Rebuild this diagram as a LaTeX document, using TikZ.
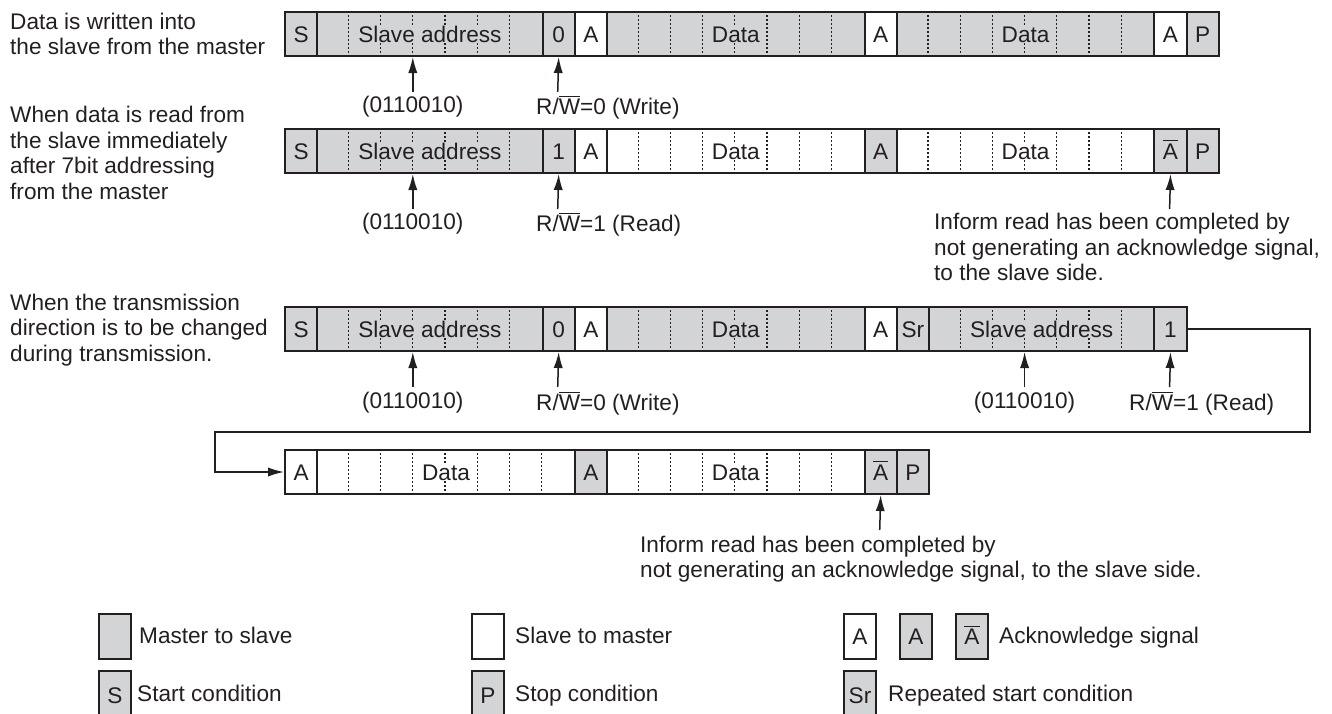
\documentclass[tikz,border=0pt]{standalone}
\usepackage{fontspec}
\setmainfont{Liberation Sans}
\usetikzlibrary{arrows.meta}
\definecolor{gry}{RGB}{211,212,214}
\definecolor{ink}{RGB}{35,31,32}
\newcommand\lab{\fontsize{11.3}{12.8}\selectfont}
\newcommand\abar{$\overline{\mbox{A}}$}
\newcommand\rwbar{R/$\overline{\mbox{W}}$}
\newcommand{\bitfld}[6]{%
  \node[fld, fill=#5, minimum width=#4*16.1pt] (#1) at ({284+#3*32.2},#2) {};
  \ifnum#4>1
    \pgfmathtruncatemacro\lastk{#4-1}
    \foreach \k in {1,...,\lastk}
      \draw[bitsep] ({284+(#3+\k)*32.2},#2) -- ++(0,44);
  \fi
  \node[txt, fill=#5, anchor=base] (#1t) at ([yshift=-4.05pt]#1.center) {#6};
}

\begin{document}
\begin{tikzpicture}[x=0.5pt,y=-0.5pt,
  fld/.style={draw=ink, line width=1pt, minimum height=22pt, inner sep=0pt, anchor=north west, font=\lab, text=ink, text height=8.1pt, text depth=0pt},
  bitsep/.style={draw=ink, line width=0.6pt, dash pattern=on 1pt off 1pt},
  txt/.style={inner sep=0.4pt, font=\lab, text=ink},
  pil/.style={draw=ink, line width=0.75pt, -{Latex[length=8pt,width=4.6pt]}}]
\useasboundingbox (0,0) rectangle (1332,713);
\clip (0,0) rectangle (1332,713);

\node[txt, anchor=west, align=left] (lbl1) at (9,34) {Data is written into\\the slave from the master};
\node[txt, anchor=west, align=left] (lbl2) at (9,153) {When data is read from\\the slave immediately\\after 7bit addressing\\from the master};
\node[txt, anchor=west, align=left] (lbl3) at (9,330) {When the transmission\\direction is to be changed\\during transmission.};

\bitfld{r1s}{11}{0}{1}{gry}{S}
\bitfld{r1adr}{11}{1}{7}{gry}{Slave address}
\bitfld{r1rw}{11}{8}{1}{gry}{0}
\bitfld{r1ack1}{11}{9}{1}{white}{A}
\bitfld{r1dat1}{11}{10}{8}{gry}{Data}
\bitfld{r1ack2}{11}{18}{1}{white}{A}
\bitfld{r1dat2}{11}{19}{8}{gry}{Data}
\bitfld{r1ack3}{11}{27}{1}{white}{A}
\bitfld{r1p}{11}{28}{1}{gry}{P}

\node[txt] (r1adrl) at (412.8,107) {(0110010)};
\node[txt, anchor=west] (r1rwl) at (535,107) {\rwbar=0 (Write)};
\coordinate (r1adrf) at (412.8,92);
\coordinate (r1rwf) at (557.7,92);
\draw[pil] (r1adrf) -- (r1adr.south -| r1adrf);
\draw[pil] (r1rwf) -- (r1rw.south);

\bitfld{r2s}{128}{0}{1}{gry}{S}
\bitfld{r2adr}{128}{1}{7}{gry}{Slave address}
\bitfld{r2rw}{128}{8}{1}{gry}{1}
\bitfld{r2ack1}{128}{9}{1}{white}{A}
\bitfld{r2dat1}{128}{10}{8}{white}{Data}
\bitfld{r2ack2}{128}{18}{1}{gry}{A}
\bitfld{r2dat2}{128}{19}{8}{white}{Data}
\bitfld{r2nak}{128}{27}{1}{gry}{\abar}
\bitfld{r2p}{128}{28}{1}{gry}{P}

\node[txt] (r2adrl) at (412.8,224) {(0110010)};
\node[txt, anchor=west] (r2rwl) at (535,224) {\rwbar=1 (Read)};
\node[txt, anchor=west, align=left] (r2note) at (933,247) {Inform read has been completed by\\not generating an acknowledge signal,\\to the slave side.};
\coordinate (r2adrf) at (412.8,209);
\coordinate (r2rwf) at (557.7,209);
\coordinate (r2nakf) at (1169.6,209);
\draw[pil] (r2adrf) -- (r2adr.south -| r2adrf);
\draw[pil] (r2rwf) -- (r2rw.south);
\draw[pil] (r2nakf) -- (r2nak.south);

\bitfld{r3s}{306}{0}{1}{gry}{S}
\bitfld{r3adr}{306}{1}{7}{gry}{Slave address}
\bitfld{r3rw}{306}{8}{1}{gry}{0}
\bitfld{r3ack1}{306}{9}{1}{white}{A}
\bitfld{r3dat1}{306}{10}{8}{gry}{Data}
\bitfld{r3ack2}{306}{18}{1}{white}{A}
\bitfld{r3sr}{306}{19}{1}{gry}{Sr}
\bitfld{r3adr2}{306}{20}{7}{gry}{Slave address}
\bitfld{r3rw2}{306}{27}{1}{gry}{1}

\node[txt] (r3adrl) at (412.8,403) {(0110010)};
\node[txt, anchor=west] (r3rwl) at (535,403) {\rwbar=0 (Write)};
\node[txt] (r3adr2l) at (1024.6,403) {(0110010)};
\node[txt, anchor=west] (r3rw2l) at (1128,403) {\rwbar=1 (Read)};
\coordinate (r3adrf) at (412.8,387);
\coordinate (r3rwf) at (557.7,387);
\coordinate (r3adr2f) at (1024.6,387);
\coordinate (r3rw2f) at (1169.6,387);
\draw[pil] (r3adrf) -- (r3adr.south -| r3adrf);
\draw[pil] (r3rwf) -- (r3rw.south);
\draw[pil] (r3adr2f) -- (r3adr2.south -| r3adr2f);
\draw[pil] (r3rw2f) -- (r3rw2.south);

\bitfld{r4ack1}{449}{0}{1}{white}{A}
\bitfld{r4dat1}{449}{1}{8}{white}{Data}
\bitfld{r4ack2}{449}{9}{1}{gry}{A}
\bitfld{r4dat2}{449}{10}{8}{white}{Data}
\bitfld{r4nak}{449}{18}{1}{gry}{\abar}
\bitfld{r4p}{449}{19}{1}{gry}{P}

\coordinate (turnr) at (1310,432);
\coordinate (turnl) at (215,432);
\draw[pil] (r3rw2.east) -| (turnr) -- (turnl) |- (r4ack1.west);

\node[txt, anchor=west, align=left] (r4note) at (639,559) {Inform read has been completed by\\not generating an acknowledge signal, to the slave side.};
\coordinate (r4nakf) at (879.7,530);
\draw[pil] (r4nakf) -- (r4nak.south);

\node[fld, fill=gry, minimum width=16pt, minimum height=22.5pt] (lgms) at (98,613) {};
\node[txt, anchor=base west] (lgmsl) at (138,643.6) {Master to slave};
\node[fld, fill=white, minimum width=16pt, minimum height=22.5pt] (lgsm) at (471,613) {};
\node[txt, anchor=base west] (lgsml) at (514,643.6) {Slave to master};
\node[fld, fill=white, minimum width=16pt, minimum height=22.5pt] (lgak1) at (843,613) {A};
\node[fld, fill=gry, minimum width=16pt, minimum height=22.5pt] (lgak2) at (899,613) {A};
\node[fld, fill=gry, minimum width=16pt, minimum height=22.5pt] (lgak3) at (955,613) {\abar};
\node[txt, anchor=base west] (lgakl) at (998,643.6) {Acknowledge signal};

\node[fld, fill=gry, minimum width=16pt, minimum height=24pt] (lgst) at (98,670) {S};
\node[txt, anchor=base west] (lgstl) at (136,701) {Start condition};
\node[fld, fill=gry, minimum width=16pt, minimum height=24pt] (lgsp) at (471,670) {P};
\node[txt, anchor=base west] (lgspl) at (514,701) {Stop condition};
\node[fld, fill=gry, minimum width=16pt, minimum height=24pt] (lgsr) at (843,670) {Sr};
\node[txt, anchor=base west] (lgsrl) at (887,701) {Repeated start condition};
\end{tikzpicture}
\end{document}
